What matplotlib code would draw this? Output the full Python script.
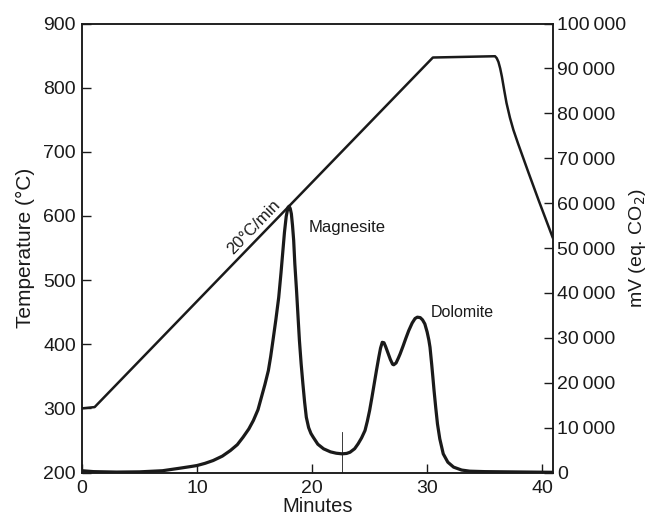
import matplotlib.pyplot as plt
from matplotlib.ticker import FuncFormatter

plt.rcParams['font.family'] = ['Liberation Sans', 'DejaVu Sans']

# temperature programme (left axis, degC)
temp_min = [0, 1.1, 30.5, 35.9, 36.05, 36.2, 36.35, 36.5, 36.7, 36.9, 37.2, 37.5,
            37.9, 38.4, 38.8, 39.25, 39.7, 40.1, 40.5, 40.9]
temp_c = [300, 302, 847, 849, 846, 840, 830, 817, 796, 776, 753, 734,
          713, 688, 668, 646, 624, 605, 586, 567]

# CO2 signal (right axis, mV eq. CO2)
co2_min = [0, 1, 3, 5, 7, 8.5, 9.5, 10.0, 10.7, 11.4, 12.2, 12.9, 13.5, 14.0,
           14.5, 14.9, 15.3, 15.6, 15.9, 16.2, 16.4, 16.6, 16.85, 17.1, 17.3,
           17.45, 17.6, 17.75, 17.9, 18.0, 18.1, 18.2, 18.3, 18.4, 18.5, 18.65,
           18.8, 18.9, 19.05, 19.2, 19.35, 19.5, 19.7, 19.9, 20.1, 20.5, 21.0,
           21.6, 22.1, 22.6, 23.0, 23.3, 23.7, 24.0, 24.3, 24.6, 24.8, 25.0,
           25.2, 25.4, 25.6, 25.8, 25.95, 26.1, 26.25, 26.4, 26.6, 26.8, 27.0,
           27.1, 27.3, 27.5, 27.65, 27.9, 28.15, 28.4, 28.7, 28.95, 29.15, 29.4,
           29.6, 29.8, 30.0, 30.15, 30.25, 30.4, 30.5, 30.6, 30.75, 30.9, 31.1,
           31.4, 31.8, 32.3, 33.0, 33.7, 35, 37, 39, 40.9]
co2_mv = [400, 200, 100, 150, 400, 960, 1350, 1560, 2050, 2670, 3650, 4900,
          6200, 7860, 9700, 11600, 14000, 16800, 19600, 22700, 25800, 29400,
          34000, 39000, 44500, 49000, 53500, 57000, 59000, 59300, 58800, 57600,
          55000, 51700, 46500, 40500, 33800, 29400, 24200, 19800, 15700, 12300,
          10000, 8700, 7860, 6300, 5280, 4600, 4300, 4160, 4250, 4520, 5300,
          6390, 7700, 9350, 11400, 13800, 16700, 19750, 22800, 25700, 27700,
          29000, 28900, 28000, 26600, 25200, 24100, 24000, 24400, 25500, 26400,
          28100, 29900, 31600, 33300, 34300, 34600, 34500, 34000, 33100, 31300,
          29500, 27900, 24000, 21200, 18300, 14400, 10800, 7500, 4160, 2300,
          1200, 550, 300, 200, 150, 100, 50]

marker_min = 22.6
marker_top = 9000

x_ticks = [0, 10, 20, 30, 40]
temp_ticks = [200, 300, 400, 500, 600, 700, 800, 900]
mv_ticks = list(range(0, 100001, 10000))

ink = '#1a1a1a'

fig = plt.figure(figsize=(6.47, 5.18), dpi=100)
ax = fig.add_axes([0.1267, 0.0878, 0.7273, 0.8668])
ax2 = ax.twinx()

ax.plot(temp_min, temp_c, color=ink, lw=1.8, solid_joinstyle='round')
ax2.plot(co2_min, co2_mv, color=ink, lw=2.3, solid_joinstyle='round')
ax2.plot([marker_min, marker_min], [0, marker_top], color=ink, lw=0.6)

ax.set_xlim(0, 40.9)
ax.set_ylim(200, 900)
ax2.set_ylim(0, 100000)
ax.set_xticks(x_ticks)
ax.set_yticks(temp_ticks)
ax2.set_yticks(mv_ticks)
ax2.yaxis.set_major_formatter(FuncFormatter(lambda v, p: f"{int(v):,}".replace(",", "\u2009")))

for a in (ax, ax2):
    for s in a.spines.values():
        s.set_linewidth(1.1)
        s.set_color(ink)
ax.tick_params(axis='both', direction='in', length=6.5, width=1, labelsize=14,
               colors=ink, pad=4.3)
ax.tick_params(axis='x', pad=5.5)
ax2.tick_params(axis='y', direction='in', length=6.5, width=1, labelsize=14,
                colors=ink, pad=3.5)

ax.set_xlabel("Minutes", fontsize=14.5, labelpad=0, color=ink)
ax.set_ylabel("Temperature (°C)", fontsize=15, labelpad=6, color=ink)
ax2.set_ylabel("mV (eq. CO$_2$)", fontsize=14, labelpad=0, color=ink)

ax.text(14.96, 583, "20°C/min", rotation=46, rotation_mode='anchor',
        ha='center', va='center', fontsize=12, color=ink)
ax2.text(19.7, 54500, "Magnesite", ha='left', va='center', fontsize=12, color=ink)
ax2.text(30.3, 35700, "Dolomite", ha='left', va='center', fontsize=11.5, color=ink)

fig.savefig("out.png", dpi=100)
